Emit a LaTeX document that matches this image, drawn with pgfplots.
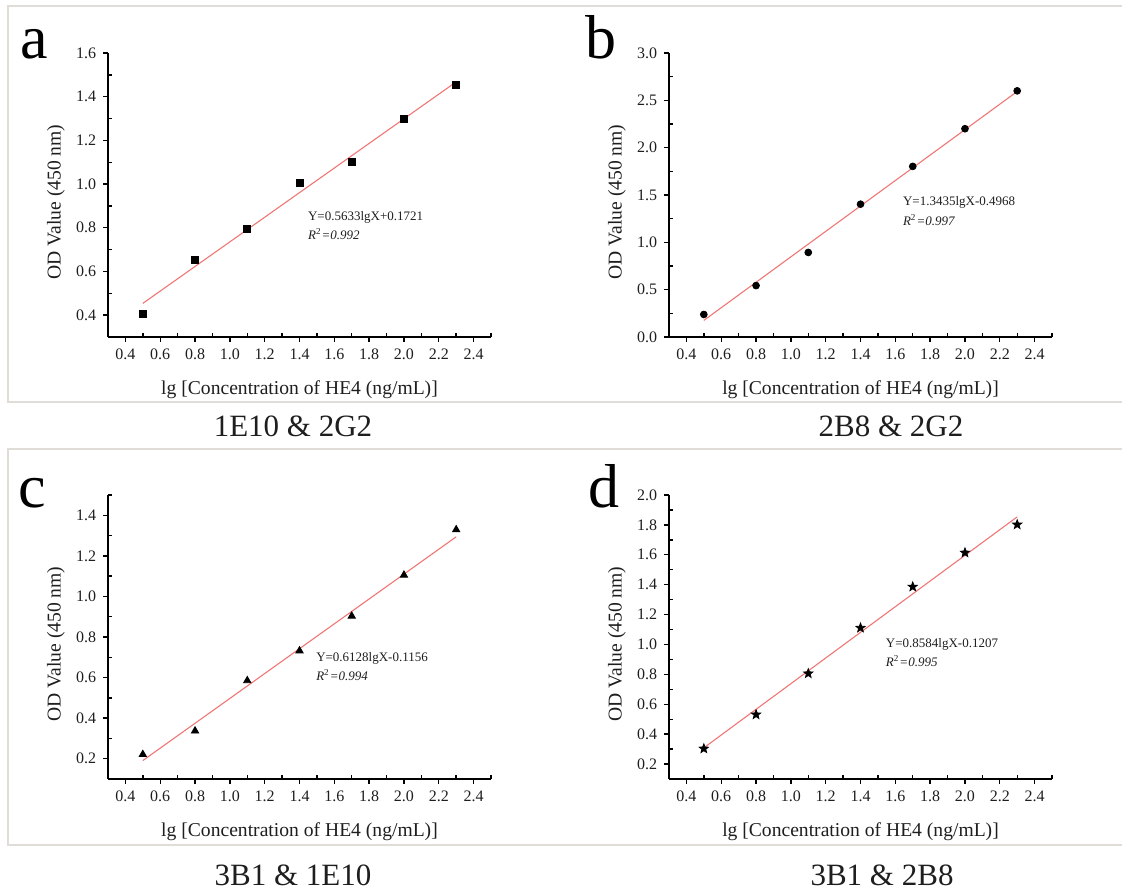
\documentclass[border=0pt]{standalone}
\usepackage{fontspec}
\setmainfont{Liberation Serif}
\usepackage{pgfplots}
\pgfplotsset{compat=1.18}

\definecolor{fitred}{RGB}{240,118,118}
\definecolor{framegray}{RGB}{224,221,217}
\definecolor{txt}{RGB}{30,30,30}

\pgfdeclareplotmark{fstar}{%
  \pgfpathmoveto{\pgfpointpolar{90}{\pgfplotmarksize}}%
  \pgfpathlineto{\pgfpointpolar{126}{0.42*\pgfplotmarksize}}%
  \pgfpathlineto{\pgfpointpolar{162}{\pgfplotmarksize}}%
  \pgfpathlineto{\pgfpointpolar{198}{0.42*\pgfplotmarksize}}%
  \pgfpathlineto{\pgfpointpolar{234}{\pgfplotmarksize}}%
  \pgfpathlineto{\pgfpointpolar{270}{0.42*\pgfplotmarksize}}%
  \pgfpathlineto{\pgfpointpolar{306}{\pgfplotmarksize}}%
  \pgfpathlineto{\pgfpointpolar{342}{0.42*\pgfplotmarksize}}%
  \pgfpathlineto{\pgfpointpolar{18}{\pgfplotmarksize}}%
  \pgfpathlineto{\pgfpointpolar{54}{0.42*\pgfplotmarksize}}%
  \pgfpathclose
  \pgfusepathqfillstroke}

\tikzset{eq/.style={anchor=base west, inner sep=0pt, font=\fontsize{6.5}{7}\selectfont, text=txt}}

\pgfplotsset{
  panel/.style={
    scale only axis, width=191.5pt, height=142pt,
    axis lines=left, axis line style={-, line width=0.8pt, black},
    xmin=0.3, xmax=2.5,
    xtick={0.4,0.6,0.8,1.0,1.2,1.4,1.6,1.8,2.0,2.2,2.4},
    minor xtick={0.3,0.5,0.7,0.9,1.1,1.3,1.5,1.7,1.9,2.1,2.3,2.5},
    tick align=outside, major tick length=2.4pt, minor tick length=-1.8pt,
    tick style={black, line width=0.7pt},
    ticklabel style={font=\fontsize{8}{9}\selectfont, text=txt},
    /pgf/number format/fixed, /pgf/number format/fixed zerofill,
    /pgf/number format/precision=1, /pgf/number format/assume math mode=true,
    xlabel={lg [Concentration of HE4 (ng/mL)]},
    ylabel={OD Value (450 nm)},
    label style={font=\fontsize{9.8}{11}\selectfont, text=txt},
    xlabel style={at={(axis description cs:0.5,-0.185)}, anchor=center},
    ylabel style={at={(axis description cs:-0.136,0.475)}, anchor=center},
    clip=false,
  },
  fit/.style={fitred, line width=0.55pt, no marks},
  pts/.style={only marks, black, mark options={fill=black}},
}

\begin{document}
\begin{tikzpicture}
\path[use as bounding box] (0,0) rectangle (561pt,446pt);

% frames
\draw[framegray, line width=0.75pt] (562pt,443pt) -- (4pt,443pt) -- (4pt,245pt) -- (562pt,245pt);
\draw[framegray, line width=0.75pt] (562pt,221.5pt) -- (4pt,221.5pt) -- (4pt,23.5pt) -- (562pt,23.5pt);

% panel a
\begin{axis}[panel, at={(54pt,277.5pt)}, anchor=south west,
  ymin=0.3, ymax=1.6,
  ytick={0.4,0.6,0.8,1.0,1.2,1.4,1.6},
  minor ytick={0.3,0.5,0.7,0.9,1.1,1.3,1.5}]
\addplot[fit] coordinates {(0.5,0.4538) (2.3,1.4677)};
\addplot[pts, mark=square*, mark size=1.75pt] coordinates {
(0.5,0.404) (0.8,0.655) (1.1,0.797) (1.4,1.004) (1.7,1.100) (2.0,1.299) (2.3,1.455)};
\node[eq] at (axis cs:1.447,0.832) {Y=0.5633lgX+0.1721};
\node[eq] at (axis cs:1.447,0.747) {\textit{R}\textsuperscript{2}\textit{=0.992}};
\end{axis}

% panel b
\begin{axis}[panel, at={(334.5pt,277.5pt)}, anchor=south west,
  ymin=0, ymax=3.0,
  ytick={0,0.5,1.0,1.5,2.0,2.5,3.0},
  minor ytick={0.25,0.75,1.25,1.75,2.25,2.75}]
\addplot[fit] coordinates {(0.5,0.1750) (2.3,2.5933)};
\addplot[pts, mark=*, mark size=1.7pt] coordinates {
(0.5,0.238) (0.8,0.543) (1.1,0.893) (1.4,1.403) (1.7,1.802) (2.0,2.200) (2.3,2.600)};
\node[eq] at (axis cs:1.642,1.386) {Y=1.3435lgX-0.4968};
\node[eq] at (axis cs:1.642,1.182) {\textit{R}\textsuperscript{2}\textit{=0.997}};
\end{axis}

% panel c
\begin{axis}[panel, at={(54pt,56.5pt)}, anchor=south west,
  ymin=0.1, ymax=1.5,
  ytick={0.2,0.4,0.6,0.8,1.0,1.2,1.4},
  minor ytick={0.1,0.3,0.5,0.7,0.9,1.1,1.3,1.5}]
\addplot[fit] coordinates {(0.5,0.1908) (2.3,1.2938)};
\addplot[pts, mark=triangle*, mark size=2.1pt] coordinates {
(0.5,0.221) (0.8,0.337) (1.1,0.585) (1.4,0.732) (1.7,0.903) (2.0,1.105) (2.3,1.329)};
\node[eq] at (axis cs:1.494,0.677) {Y=0.6128lgX-0.1156};
\node[eq] at (axis cs:1.494,0.585) {\textit{R}\textsuperscript{2}\textit{=0.994}};
\end{axis}

% panel d
\begin{axis}[panel, at={(334.5pt,56.5pt)}, anchor=south west,
  ymin=0.1, ymax=2.0,
  ytick={0.2,0.4,0.6,0.8,1.0,1.2,1.4,1.6,1.8,2.0},
  minor ytick={0.1,0.3,0.5,0.7,0.9,1.1,1.3,1.5,1.7,1.9}]
\addplot[fit] coordinates {(0.5,0.3085) (2.3,1.8536)};
\addplot[pts, mark=fstar, mark size=2.4pt] coordinates {
(0.5,0.303) (0.8,0.531) (1.1,0.806) (1.4,1.111) (1.7,1.386) (2.0,1.614) (2.3,1.802)};
\node[eq] at (axis cs:1.544,0.983) {Y=0.8584lgX-0.1207};
\node[eq] at (axis cs:1.544,0.855) {\textit{R}\textsuperscript{2}\textit{=0.995}};
\end{axis}

% panel letters
\begin{scope}[every node/.style={anchor=base west, inner sep=0pt, font=\fontsize{31}{34}\selectfont}]
\node at (10pt,416.5pt) {a};
\node at (292.5pt,416.5pt) {b};
\node at (9pt,192pt) {c};
\node at (294pt,192pt) {d};
\end{scope}

% captions
\begin{scope}[every node/.style={anchor=base, inner sep=0pt, font=\fontsize{15.5}{18}\selectfont, text=txt}]
\node at (146.5pt,227.5pt) {1E10 \& 2G2};
\node at (445.5pt,227.5pt) {2B8 \& 2G2};
\node at (146.5pt,3pt) {3B1 \& 1E10};
\node at (441pt,3pt) {3B1 \& 2B8};
\end{scope}
\end{tikzpicture}
\end{document}
